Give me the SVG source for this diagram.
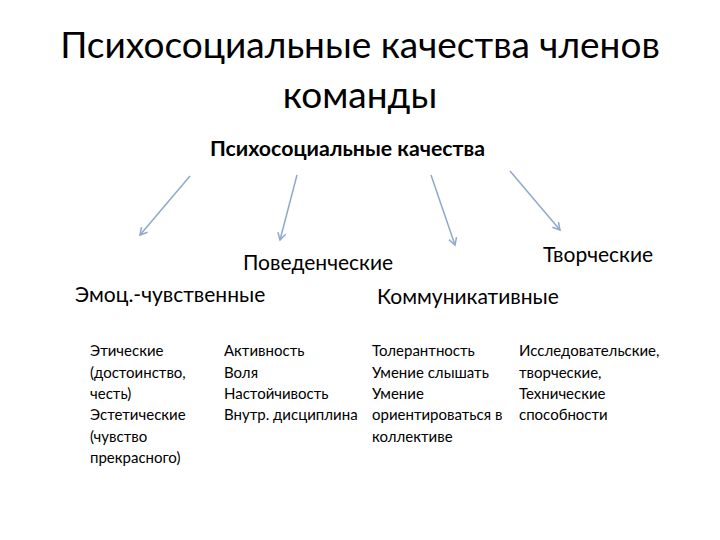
<svg xmlns="http://www.w3.org/2000/svg" width="720" height="540" viewBox="0 0 720 540">
<defs>
<style>
text{font-family:Lato,"Noto Sans","Liberation Sans",sans-serif;fill:#000}
.t{font-size:37px}
.h{font-size:20px;font-weight:bold}
.c{font-size:21px}
.l{font-size:15px}
.a{stroke:#8fa9c9;stroke-width:1.5;fill:none}
</style>
<marker id="m" markerWidth="10" markerHeight="10" refX="8" refY="5" orient="auto" markerUnits="userSpaceOnUse">
<path d="M1,1 L8,5 L1,9" fill="none" stroke="#8fa9c9" stroke-width="1.5"/>
</marker>
</defs>
<rect width="720" height="540" fill="#fff"/>
<g id="title">
<text class="t" x="360" y="58" text-anchor="middle">Психосоциальные качества членов</text>
<text class="t" x="360" y="108" text-anchor="middle">команды</text>
</g>
<g id="root"><text class="h" x="210" y="156" textLength="275" lengthAdjust="spacingAndGlyphs">Психосоциальные качества</text></g>
<g id="connectors">
<line class="a" x1="190" y1="176" x2="140" y2="235" marker-end="url(#m)"/>
<line class="a" x1="297" y1="175" x2="280" y2="240" marker-end="url(#m)"/>
<line class="a" x1="431" y1="175" x2="455" y2="245" marker-end="url(#m)"/>
<line class="a" x1="510" y1="171" x2="560" y2="230" marker-end="url(#m)"/>
</g>
<g id="emo">
<text class="c" x="75" y="302">Эмоц.-чувственные</text>
<text class="l" x="90" y="356">Этические</text>
<text class="l" x="90" y="378">(достоинство,</text>
<text class="l" x="90" y="399">честь)</text>
<text class="l" x="90" y="420">Эстетические</text>
<text class="l" x="90" y="442">(чувство</text>
<text class="l" x="90" y="463">прекрасного)</text>
</g>
<g id="beh">
<text class="c" x="243" y="270">Поведенческие</text>
<text class="l" x="224" y="356">Активность</text>
<text class="l" x="224" y="378">Воля</text>
<text class="l" x="224" y="399">Настойчивость</text>
<text class="l" x="224" y="420">Внутр. дисциплина</text>
</g>
<g id="com">
<text class="c" x="377" y="304">Коммуникативные</text>
<text class="l" x="372" y="356">Толерантность</text>
<text class="l" x="372" y="378">Умение слышать</text>
<text class="l" x="372" y="399">Умение</text>
<text class="l" x="372" y="420">ориентироваться в</text>
<text class="l" x="372" y="442">коллективе</text>
</g>
<g id="cre">
<text class="c" x="543" y="262">Творческие</text>
<text class="l" x="519" y="356">Исследовательские,</text>
<text class="l" x="519" y="378">творческие,</text>
<text class="l" x="519" y="399">Технические</text>
<text class="l" x="519" y="420">способности</text>
</g>
</svg>
